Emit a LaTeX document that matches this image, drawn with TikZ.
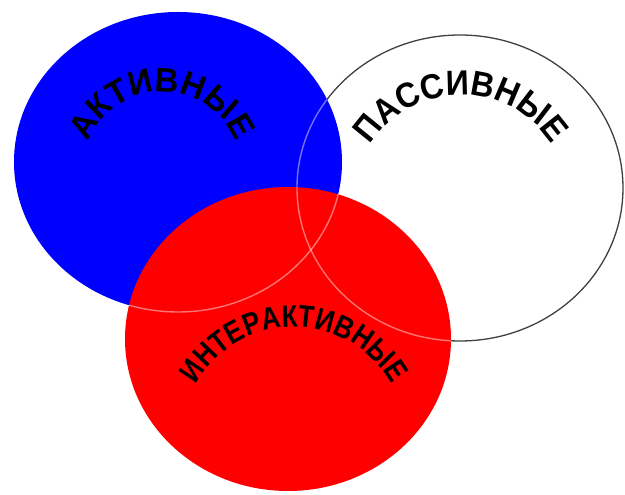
\documentclass[tikz,border=0pt]{standalone}
\usepackage{fontspec}
\newfontfamily\lsansA[FakeStretch=0.97]{Liberation Sans}
\newfontfamily\lsansB[FakeStretch=0.92]{Liberation Sans}
\newfontfamily\lsansC[FakeStretch=0.84]{Liberation Sans}
\usetikzlibrary{decorations.text}
\begin{document}
\begin{tikzpicture}[x=1pt,y=1pt,
  ghost/.style={draw=white,draw opacity=0.45,line width=1.4pt},
  arctext/.style={decorate,decoration={text along path,text align=center,text={#1}}}]
\useasboundingbox (0,0) rectangle (625,495);
\fill[white] (0,0) rectangle (625,495);
% passive (white) circle
\path[fill=white,draw=black!75,line width=1.3pt] (460,307) ellipse[x radius=163,y radius=153];
% active (blue) circle
\fill[blue] (178,333) ellipse[x radius=164,y radius=150];
\begin{scope}
  \clip (178,333) ellipse[x radius=164,y radius=150];
  \draw[ghost] (460,307) ellipse[x radius=163,y radius=153];
\end{scope}
% interactive (red) circle
\fill[red] (288,156) ellipse[x radius=163,y radius=152];
\begin{scope}
  \clip (288,156) ellipse[x radius=163,y radius=152];
  \draw[ghost] (460,307) ellipse[x radius=163,y radius=153];
  \draw[ghost] (178,333) ellipse[x radius=164,y radius=150];
\end{scope}
% arched labels
\path[arctext={|\lsansA\bfseries\fontsize{34}{40}\selectfont|АКТИВНЫЕ}]
  (162,323) ++(180:80) arc[start angle=180,end angle=0,radius=80];
\path[arctext={|\lsansB\bfseries\fontsize{35}{42}\selectfont|ПАССИВНЫЕ}]
  (461,292) ++(180:108) arc[start angle=180,end angle=0,radius=108];
\path[arctext={|\lsansC\bfseries\fontsize{31}{36}\selectfont|ИНТЕРАКТИВНЫЕ}]
  (294,56) ++(180:112) arc[start angle=180,end angle=0,radius=112];
\end{tikzpicture}
\end{document}
